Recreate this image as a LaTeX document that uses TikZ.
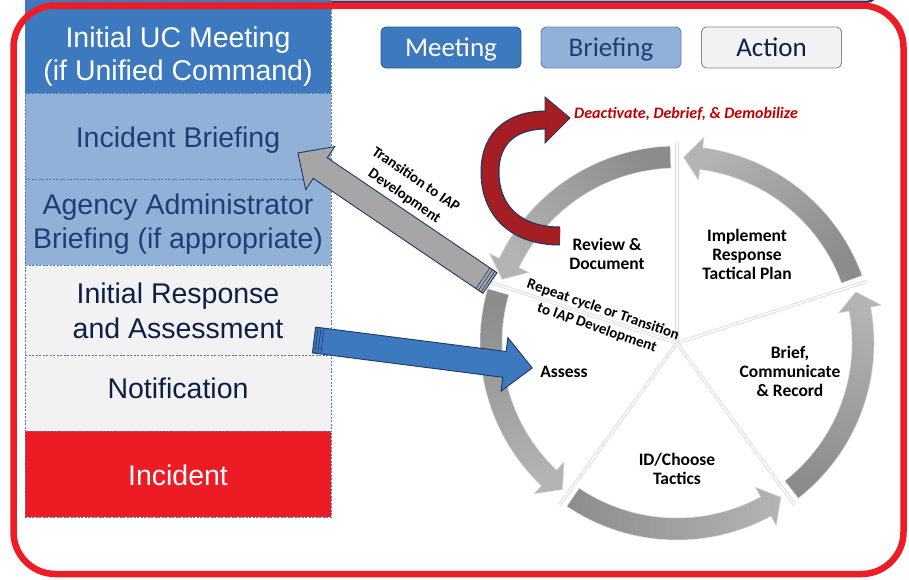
\documentclass[tikz,border=0pt]{standalone}
\usepackage{fontspec}
\setmainfont{Liberation Sans}
\newfontfamily\carl{Carlito}
\usetikzlibrary{calc}
\definecolor{ucblue}{HTML}{3D79BE}
\definecolor{ucborder}{HTML}{2E5C90}
\definecolor{ltblue}{HTML}{91B1D8}
\definecolor{ltborder}{HTML}{5F86B8}
\definecolor{ltgray}{HTML}{F2F2F2}
\definecolor{grborder}{HTML}{7F8A98}
\definecolor{incred}{HTML}{ED1C24}
\definecolor{framered}{HTML}{EE1C25}
\definecolor{dashblue}{HTML}{4F79AE}
\definecolor{navy}{HTML}{1F3864}
\definecolor{txtblue}{HTML}{1F3F73}
\definecolor{txtdark}{HTML}{0E1E45}
\definecolor{ddred}{HTML}{C00000}
\definecolor{arrred}{HTML}{A51E24}
\definecolor{ringlt}{HTML}{B4B4B4}
\definecolor{ringdk}{HTML}{8C8C8C}
\definecolor{arrgray}{HTML}{A6A6A6}
\begin{document}
\begin{tikzpicture}[x=1pt,y=1pt,
  rowbox/.style={draw=dashblue, dash pattern=on 2pt off 1.5pt, line width=0.7pt,
    minimum width=306pt, inner sep=0pt, anchor=north west},
  rowtxt/.style={anchor=base, font=\fontsize{28.5}{33}\selectfont, inner sep=0pt},
  legbox/.style={rounded corners=5pt, minimum width=140pt, minimum height=41pt,
    line width=0.9pt, inner sep=0pt},
  legtxt/.style={anchor=base, font=\carl\fontsize{27}{30}\selectfont, inner sep=0pt},
  cyc/.style={font=\carl\bfseries\fontsize{17.5}{19}\selectfont, align=center,
    inner sep=0pt, text=black},
  rottxt/.style={font=\carl\bfseries\fontsize{15}{19}\selectfont, align=center,
    inner sep=0pt, text=black},
  ringseg/.style={top color=ringlt, bottom color=ringdk, draw=white!75!gray, line width=0.5pt},
  bigarrow/.style={draw=navy, line width=0.9pt, line join=miter},
  stripe/.style={draw=navy, line width=0.6pt}
]
\path[use as bounding box] (0,0) rectangle (909,-579);
\fill[white] (0,0) rectangle (909,-579);

% top strip (bottom of a box above)
\draw[navy, line width=2.2pt, rounded corners=14pt] (38,-1.8) rectangle (880,40);

% left column
\node[rowbox, fill=ucblue, minimum height=93pt] (r1) at (25,0) {};
\node[rowbox, fill=ltblue, minimum height=86pt] (r2) at (25,-93) {};
\node[rowbox, fill=ltblue, minimum height=86pt] (r3) at (25,-179) {};
\node[rowbox, fill=ltgray, minimum height=90pt] (r4) at (25,-265) {};
\node[rowbox, fill=ltgray, minimum height=76pt] (r5) at (25,-355) {};
\node[rowbox, fill=incred, minimum height=86pt] (r6) at (25,-431) {};

\node[rowtxt, text=white] (t1a) at (178,-47) {Initial UC Meeting};
\node[rowtxt, text=white] (t1b) at (178,-80) {(if Unified Command)};
\node[rowtxt, text=txtblue] (t2) at (178,-147) {Incident Briefing};
\node[rowtxt, text=txtblue] (t3a) at (178,-214) {Agency Administrator};
\node[rowtxt, text=txtblue] (t3b) at (178,-248) {Briefing (if appropriate)};
\node[rowtxt, text=txtdark] (t4a) at (178,-303) {Initial Response};
\node[rowtxt, text=txtdark] (t4b) at (178,-338) {and Assessment};
\node[rowtxt, text=txtdark] (t5) at (178,-398) {Notification};
\node[rowtxt, text=white] (t6) at (178,-485) {Incident};

% red frame
\draw[framered, line width=6.5pt, rounded corners=42pt] (13.5,-5.5) rectangle (903.5,-574);

% legend
\node[legbox, fill=ucblue, draw=ucborder] (lm) at (451,-47.5) {};
\node[legbox, fill=ltblue, draw=ltborder] (lb) at (611,-47.5) {};
\node[legbox, fill=ltgray, draw=grborder] (la) at (771.5,-47.5) {};
\node[legtxt, text=white] (lmt) at (451,-56) {Meeting};
\node[legtxt, text=txtblue] (lbt) at (611,-56) {Briefing};
\node[legtxt, text=txtdark] (lat) at (771.5,-56) {Action};

% cycle ring
\coordinate (ctr) at (677,-343);
\begin{scope}[shift={(ctr)}]
\foreach \s in {18,90,162,234,306}{
  \pgfmathsetmacro\aa{\s+2}
  \pgfmathsetmacro\ab{\s+72-7.5}
  \pgfmathsetmacro\ac{\s+72-2}
  \pgfmathsetmacro\am{\s+36}
  \shadedraw[ringseg, shading angle=\am]
    (\aa:197) arc[start angle=\aa, end angle=\ab, radius=197pt]
    -- (\ab:208) -- (\ac:186) -- (\ab:164) -- (\ab:175)
    arc[start angle=\ab, end angle=\aa, radius=175pt] -- cycle;
}
\end{scope}
\foreach \s in {18,90,162,234,306}{
  \draw[gray!30, line width=3.2pt] (ctr) -- ($(ctr)+(\s:200)$);
  \draw[white, line width=1.6pt] (ctr) -- ($(ctr)+(\s:200)$);
}

% red deactivate arrow
\coordinate (rtail) at (560,-236);
\coordinate (rmid) at (490,-172);
\coordinate (rbase) at (546,-120);
\coordinate (rtip) at (570,-118);
\fill[arrred] (545,-97) -- (rtip) -- (545,-143) -- cycle;
\draw[navy, line width=19pt] (rtail) .. controls (515,-236) and (490,-210) .. (rmid)
   .. controls (490,-135) and (515,-120) .. (rbase);
\draw[arrred, line width=16.5pt] (rtail) .. controls (515,-236) and (490,-210) .. (rmid)
   .. controls (490,-135) and (515,-120) .. (rbase);
\draw[navy, line width=0.9pt, line join=miter] (545,-111) -- (545,-97) -- (rtip) -- (545,-143) -- (545,-129);

% gray arrow: transition to IAP development
\begin{scope}[shift={(490,-283)}, rotate=145.9]
  \filldraw[bigarrow, fill=arrgray] (0,-12.5) -- (205,-12.5) -- (205,-26) -- (232,0)
     -- (205,26) -- (205,12.5) -- (0,12.5) -- cycle;
  \foreach \d in {2.5,5.5,8.5} \draw[stripe] (\d,-12.5) -- (\d,12.5);
\end{scope}

% blue arrow: to assess
\begin{scope}[shift={(314,-340)}, rotate=-7.3]
  \filldraw[bigarrow, fill=ucblue] (0,-13) -- (192,-13) -- (192,-27) -- (220,0)
     -- (192,27) -- (192,13) -- (0,13) -- cycle;
  \foreach \d in {2.5,5.5,8.5} \draw[stripe] (\d,-13) -- (\d,13);
\end{scope}

% labels
\node[anchor=west, inner sep=0pt, text=ddred, font=\carl\bfseries\itshape\fontsize{16}{18}\selectfont]
  (dd) at (574,-114) {Deactivate, Debrief, \& Demobilize};
\node[cyc] (rev) at (607,-253.5) {Review \&\\Document};
\node[cyc] (imp) at (747,-254) {Implement\\Response\\Tactical Plan};
\node[cyc] (bri) at (790,-371) {Brief,\\Communicate\\\& Record};
\node[cyc] (idc) at (677,-468.5) {ID/Choose\\Tactics};
\node[cyc] (ass) at (564,-372) {Assess};
\node[rottxt, rotate=-19] (rep) at (600,-319) {Repeat cycle or Transition\\to IAP Development};
\node[rottxt, font=\carl\bfseries\fontsize{15}{20}\selectfont, rotate=-34.5] (trn) at (410,-188) {Transition to IAP\\Development};
\end{tikzpicture}
\end{document}
